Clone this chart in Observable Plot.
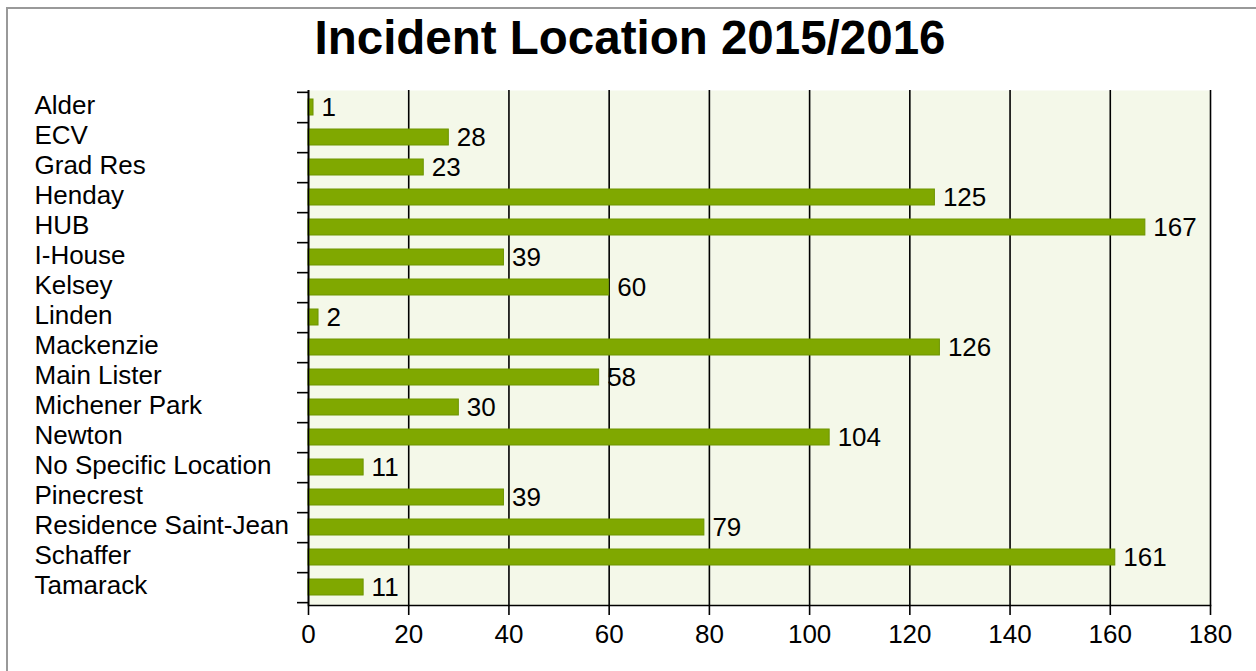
<!DOCTYPE html>
<html>
<head>
<meta charset="utf-8">
<script src="https://cdn.jsdelivr.net/npm/d3@7"></script>
<script src="https://cdn.jsdelivr.net/npm/@observablehq/plot@0.6"></script>
<style>
  html, body { margin: 0; padding: 0; background: #fff; }
  #wrap { position: relative; width: 1256px; height: 671px; overflow: hidden; font-family: "Liberation Sans", Arial, sans-serif; }
  #frame { position: absolute; left: 6px; top: 7px; width: 1300px; height: 700px; border-left: 2px solid #999; border-top: 2px solid #999; }
  #title { position: absolute; left: 0; top: 10px; width: 1260px; text-align: center; font-size: 47.5px; font-weight: bold; color: #000; line-height: normal; }
  #chart { position: absolute; left: 0; top: 70px; }
</style>
</head>
<body>
<div id="wrap">
  <div id="frame"></div>
  <div id="title">Incident Location 2015/2016</div>
  <div id="chart"></div>
</div>
<script>
const locations = ["Alder", "ECV", "Grad Res", "Henday", "HUB", "I-House", "Kelsey", "Linden", "Mackenzie", "Main Lister", "Michener Park", "Newton", "No Specific Location", "Pinecrest", "Residence Saint-Jean", "Schaffer", "Tamarack"];
const counts = [1, 28, 23, 125, 167, 39, 60, 2, 126, 58, 30, 104, 11, 39, 79, 161, 11];
const xTicks = [0, 20, 40, 60, 80, 100, 120, 140, 160, 180];

const data = locations.map((loc, i) => ({loc, count: counts[i]}));

const W = 1256, H = 601;
const mTop = 20, mBottom = 66, mLeft = 308, mRight = 46;
const step = (H - mTop - mBottom) / locations.length;
const pad = 0.455;
const fs = 26;

const chart = Plot.plot({
  width: W,
  height: H,
  marginTop: mTop,
  marginBottom: mBottom,
  marginLeft: mLeft,
  marginRight: mRight,
  style: {fontFamily: "'Liberation Sans', Arial, sans-serif", fontSize: fs + "px", background: "transparent", color: "#000", overflow: "visible"},
  x: {domain: [0, 180], ticks: xTicks},
  y: {domain: locations, paddingInner: pad, paddingOuter: pad / 2, label: null},
  marks: [
    Plot.frame({fill: "#f4f8e9", stroke: "none"}),
    Plot.gridX(xTicks, {stroke: "#000", strokeOpacity: 1, strokeWidth: 1.6}),
    Plot.barX(data, {x: "count", y: "loc", fill: "#80a800", stroke: "#6c9400", strokeWidth: 1}),
    Plot.text(data, {x: "count", y: "loc", text: d => String(d.count), textAnchor: "start", dx: 8, dy: 0, fontSize: fs, fill: "#000"}),
    Plot.ruleX([0], {stroke: "#000", strokeWidth: 1.6}),
    Plot.frame({anchor: "bottom", stroke: "#000", strokeWidth: 1.6}),
    Plot.axisX(xTicks, {tickSize: 10, tickPadding: 9, fontSize: fs, label: null, strokeWidth: 1.6}),
    Plot.axisY(locations, {tickSize: 11, tickFormat: () => "", dy: step / 2, label: null, strokeWidth: 1.6}),
    Plot.axisY([locations[0]], {tickSize: 11, tickFormat: () => "", dy: -step / 2, label: null, strokeWidth: 1.6}),
    Plot.axisY(locations, {tickSize: 0, tickPadding: 0, textAnchor: "start", dx: 34 - mLeft, dy: -1.5, fontSize: fs, label: null})
  ]
});
document.getElementById("chart").appendChild(chart);
</script>
</body>
</html>
